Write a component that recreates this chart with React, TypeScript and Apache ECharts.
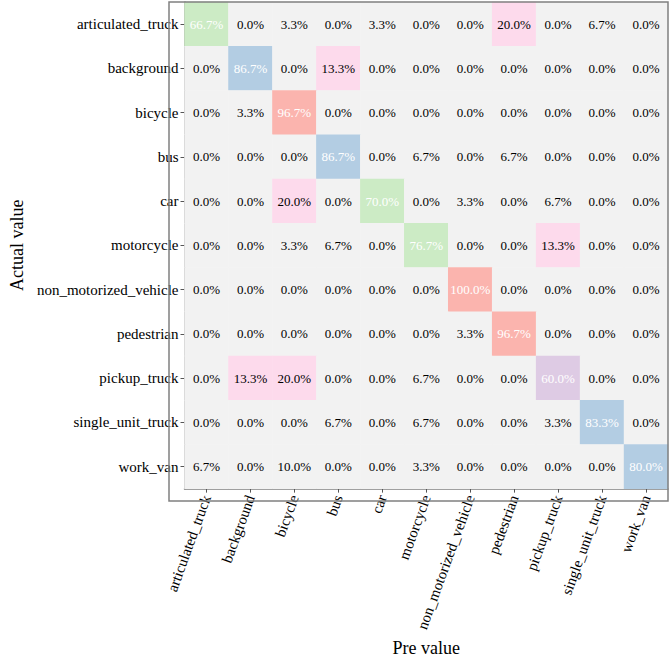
import React, { useEffect, useRef } from "react";
import * as echarts from "echarts";

const categories = [
  "articulated_truck",
  "background",
  "bicycle",
  "bus",
  "car",
  "motorcycle",
  "non_motorized_vehicle",
  "pedestrian",
  "pickup_truck",
  "single_unit_truck",
  "work_van",
];

// rows = actual, columns = predicted (percent)
const rowArticulatedTruck = [66.7, 0, 3.3, 0, 3.3, 0, 0, 20.0, 0, 6.7, 0];
const rowBackground = [0, 86.7, 0, 13.3, 0, 0, 0, 0, 0, 0, 0];
const rowBicycle = [0, 3.3, 96.7, 0, 0, 0, 0, 0, 0, 0, 0];
const rowBus = [0, 0, 0, 86.7, 0, 6.7, 0, 6.7, 0, 0, 0];
const rowCar = [0, 0, 20.0, 0, 70.0, 0, 3.3, 0, 6.7, 0, 0];
const rowMotorcycle = [0, 0, 3.3, 6.7, 0, 76.7, 0, 0, 13.3, 0, 0];
const rowNonMotorized = [0, 0, 0, 0, 0, 0, 100.0, 0, 0, 0, 0];
const rowPedestrian = [0, 0, 0, 0, 0, 0, 3.3, 96.7, 0, 0, 0];
const rowPickupTruck = [0, 13.3, 20.0, 0, 0, 6.7, 0, 0, 60.0, 0, 0];
const rowSingleUnitTruck = [0, 0, 0, 6.7, 0, 6.7, 0, 0, 3.3, 83.3, 0];
const rowWorkVan = [6.7, 0, 10.0, 0, 0, 3.3, 0, 0, 0, 0, 80.0];

const matrix = [
  rowArticulatedTruck,
  rowBackground,
  rowBicycle,
  rowBus,
  rowCar,
  rowMotorcycle,
  rowNonMotorized,
  rowPedestrian,
  rowPickupTruck,
  rowSingleUnitTruck,
  rowWorkVan,
];

const FONT = "'Liberation Serif', 'Times New Roman', serif";

export default function App() {
  const ref = useRef<HTMLDivElement>(null);

  useEffect(() => {
    if (!ref.current) return;
    const chart = echarts.init(ref.current, undefined, { renderer: "svg" });

    const data: any[] = [];
    matrix.forEach((row, r) => {
      row.forEach((v, c) => {
        data.push({
          value: [c, r, v],
          label: { color: v > 50 ? "#ffffff" : "#000000" },
        });
      });
    });

    const L = 169, T = 2, W = 499, H = 499;

    chart.setOption({
      animation: false,
      backgroundColor: "#ffffff",
      grid: { left: L, top: T, width: W, height: H, containLabel: false },
      xAxis: {
        type: "category",
        data: categories,
        position: "bottom",
        name: "Pre value",
        nameLocation: "middle",
        nameGap: 148,
        nameTextStyle: { fontFamily: FONT, fontSize: 18, color: "#000" },
        axisLine: { show: true, lineStyle: { color: "#808080", width: 1.5 } },
        axisTick: { show: true, alignWithLabel: true, length: 4, lineStyle: { color: "#555" } },
        axisLabel: {
          rotate: 70,
          interval: 0,
          margin: 7,
          fontFamily: FONT,
          fontSize: 15,
          color: "#000",
        },
        splitArea: { show: false },
      },
      yAxis: {
        type: "category",
        data: categories,
        inverse: true,
        name: "Actual value",
        nameLocation: "middle",
        nameGap: 155,
        nameRotate: 90,
        nameTextStyle: { fontFamily: FONT, fontSize: 18, color: "#000" },
        axisLine: { show: true, lineStyle: { color: "#808080", width: 1.5 } },
        axisTick: { show: true, alignWithLabel: true, length: 4, lineStyle: { color: "#555" } },
        axisLabel: {
          interval: 0,
          margin: 6,
          fontFamily: FONT,
          fontSize: 15,
          color: "#000",
        },
      },
      visualMap: {
        type: "piecewise",
        show: false,
        dimension: 2,
        pieces: [
          { lt: 11.11, color: "#f2f2f2" },
          { gte: 11.11, lt: 22.22, color: "#fddaec" },
          { gte: 22.22, lt: 33.33, color: "#e5d8bd" },
          { gte: 33.33, lt: 44.44, color: "#ffffcc" },
          { gte: 44.44, lt: 55.56, color: "#fed9a6" },
          { gte: 55.56, lt: 66.67, color: "#decbe4" },
          { gte: 66.67, lt: 77.78, color: "#ccebc5" },
          { gte: 77.78, lt: 88.89, color: "#b3cde3" },
          { gte: 88.89, color: "#fbb4ae" },
        ],
      },
      series: [
        {
          type: "heatmap",
          data,
          label: {
            show: true,
            fontFamily: FONT,
            fontSize: 13,
            formatter: (p: any) => p.value[2].toFixed(1) + "%",
          },
          itemStyle: { borderWidth: 0 },
          emphasis: { disabled: true },
        },
      ],
      graphic: [
        {
          type: "rect",
          z: 100,
          silent: true,
          shape: { x: L, y: T, width: W, height: H },
          style: { fill: "none", stroke: "#808080", lineWidth: 1.5 },
        },
      ],
    });

    return () => chart.dispose();
  }, []);

  return (
    <div
      ref={ref}
      style={{ position: "absolute", left: 0, top: 0, width: 670, height: 662 }}
    />
  );
}
